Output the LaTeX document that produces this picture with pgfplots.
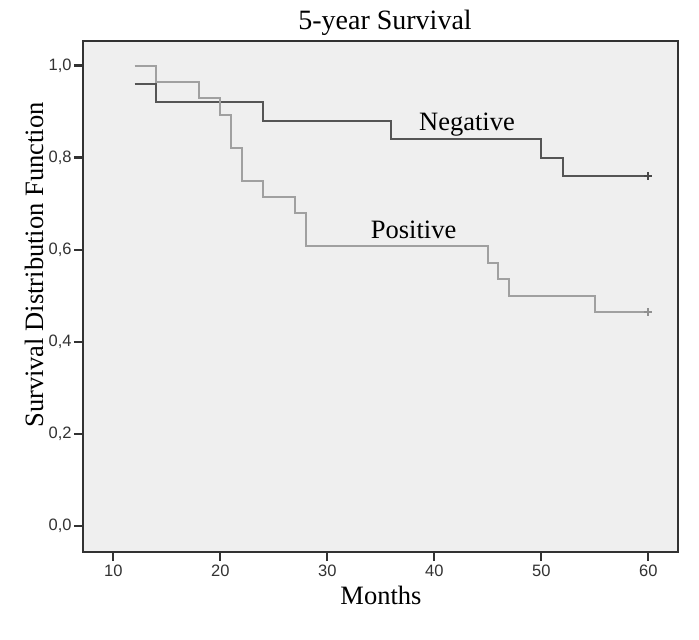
\documentclass[border=0pt]{standalone}
\usepackage{fontspec}
\setmainfont{Liberation Serif}
\newfontfamily\arial{Liberation Sans}
\usepackage{pgfplots}
\pgfplotsset{compat=1.18}
\definecolor{bgc}{RGB}{239,239,239}
\definecolor{negc}{RGB}{85,85,85}
\definecolor{posc}{RGB}{160,160,160}
\definecolor{framec}{RGB}{50,50,50}
\begin{document}
\begin{tikzpicture}
\useasboundingbox (0,0) rectangle (699pt,640pt);
\begin{axis}[
  at={(83.3pt,88.3pt)}, anchor=south west,
  scale only axis, width=594.4pt, height=511pt,
  xmin=7.2, xmax=62.75, ymin=-0.0565, ymax=1.054,
  axis background/.style={fill=bgc},
  axis line style={framec, line width=1.8pt},
  xtick={10,20,30,40,50,60}, ytick={0,0.2,0.4,0.6,0.8,1},
  tick align=outside, tick pos=left,
  major tick length=9.5pt,
  tick style={framec, line width=2.2pt},
  /pgf/number format/assume math mode=true,
  ticklabel style={font=\arial\fontsize{16.5}{19}\selectfont, text=framec},
  yticklabel style={inner xsep=2pt, /pgf/number format/fixed, /pgf/number format/fixed zerofill, /pgf/number format/precision=1, /pgf/number format/use comma},
  xticklabel style={inner ysep=4pt},
  clip=false,
]
\addplot[const plot, negc, line width=2pt] coordinates {
(12,0.96) (14,0.92) (24,0.88) (36,0.84) (50,0.80) (52,0.76) (60,0.76)};
\addplot[const plot, posc, line width=2pt] coordinates {
(12,1.0) (14,0.964) (18,0.929) (20,0.893) (21,0.821) (22,0.75) (24,0.714) (27,0.679) (28,0.607) (45,0.571) (46,0.536) (47,0.5) (55,0.464) (60,0.464)};
\addplot[only marks, mark=+, mark size=4pt, negc!85!black, line width=2pt] coordinates {(60,0.76)};
\addplot[only marks, mark=+, mark size=4pt, posc!90!black, line width=2pt] coordinates {(60,0.464)};
\node[anchor=base, font=\fontsize{26.5}{30}\selectfont] at (axis cs:43.06,0.8587) {Negative};
\node[anchor=base, font=\fontsize{26.5}{30}\selectfont] at (axis cs:38.07,0.6248) {Positive};
\node[anchor=base, font=\fontsize{26.5}{30}\selectfont] at (axis description cs:0.5008,-0.1043) {Months};
\node[anchor=base, rotate=90, font=\fontsize{26.5}{30}\selectfont] at (axis description cs:-0.0678,0.561) {Survival Distribution Function};
\node[anchor=base, font=\fontsize{28}{32}\selectfont] at (axis description cs:0.5076,1.021) {5-year Survival};
\end{axis}
\end{tikzpicture}
\end{document}
